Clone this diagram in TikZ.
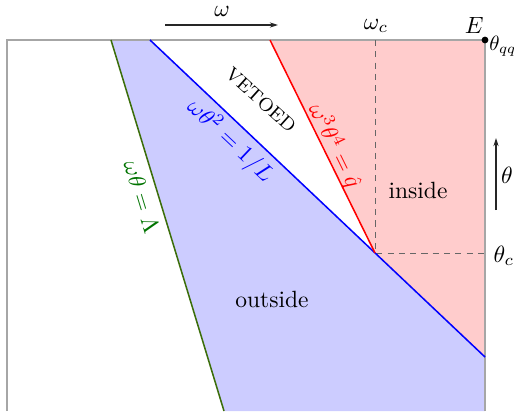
\documentclass[tikz,border=0pt]{standalone}
\usetikzlibrary{arrows.meta}
\begin{document}
\begin{tikzpicture}[x=0.4255pt,y=-0.4255pt,
  frame/.style={draw=black!35,line width=0.5pt},
  dashline/.style={draw=black!60,line width=0.4pt,dash pattern=on 2.6pt off 2.2pt},
  curve/.style={line width=0.65pt},
  axisarrow/.style={draw=black!85,line width=0.45pt,-{Stealth[length=3.5pt,width=2.2pt]}},
  lbl/.style={inner sep=0pt}]
\useasboundingbox (0,0) rectangle (514,411);
\coordinate (TL) at (7,40);
\coordinate (TR) at (485,40);
\coordinate (BL) at (7,411);
\coordinate (BR) at (485,411);
\coordinate (G1) at (111,40);
\coordinate (G2) at (224,411);
\coordinate (B1) at (150,40);
\coordinate (B2) at (485,357);
\coordinate (R1) at (270,40);
\coordinate (C) at (375,253);
\coordinate (Wc) at (375,40);
\coordinate (Tc) at (485,253);
% fills
\fill[blue!20] (G1) -- (B1) -- (B2) -- (BR) -- (G2) -- cycle;
\fill[red!20] (R1) -- (TR) -- (B2) -- (C) -- cycle;
% frame
\draw[frame] (BL) -- (TL) -- (TR) -- (BR);
% dashed
\draw[dashline] (Wc) -- (C) -- (Tc);
% curves
\draw[curve,draw={rgb,255:red,60;green,110;blue,10}] (G1) -- (G2);
\draw[curve,blue] (B1) -- (B2);
\draw[curve,red] (R1) -- (C);
% E point
\fill (TR) circle (3.4);
\node[lbl,anchor=south east] (E) at (484,34) {$E$};
\node[lbl,anchor=west,scale=0.88] (tqq) at (489,46) {$\theta_{qq}$};
\node[lbl] (wc) at (376,26) {$\omega_c$};
\node[lbl] (tc) at (504,256) {$\theta_c$};
% axis arrows
\coordinate (wa) at (165,25);
\coordinate (wb) at (278,25);
\draw[axisarrow] (wa) -- (wb);
\node[lbl] (wlab) at (222,11) {$\omega$};
\coordinate (ta) at (496,210);
\coordinate (tb) at (496,138);
\draw[axisarrow] (ta) -- (tb);
\node[lbl] (tlab) at (507,175) {$\theta$};
% region labels
\node[lbl] (inside) at (418,190) {inside};
\node[lbl] (outside) at (272,299) {outside};
\node[lbl,rotate=-42] (vetoed) at (261,100) {\footnotesize VETOED};
\node[lbl,rotate=-43.4,text=blue] (blab) at (230,141) {$\omega\theta^2=1/L$};
\node[lbl,rotate=-63.8,text=red] (rlab) at (335,146) {$\omega^3\theta^4=\hat q$};
\node[lbl,rotate=-73,text=green!45!black] (glab) at (142,197) {$\omega\theta=\Lambda$};
\end{tikzpicture}
\end{document}
